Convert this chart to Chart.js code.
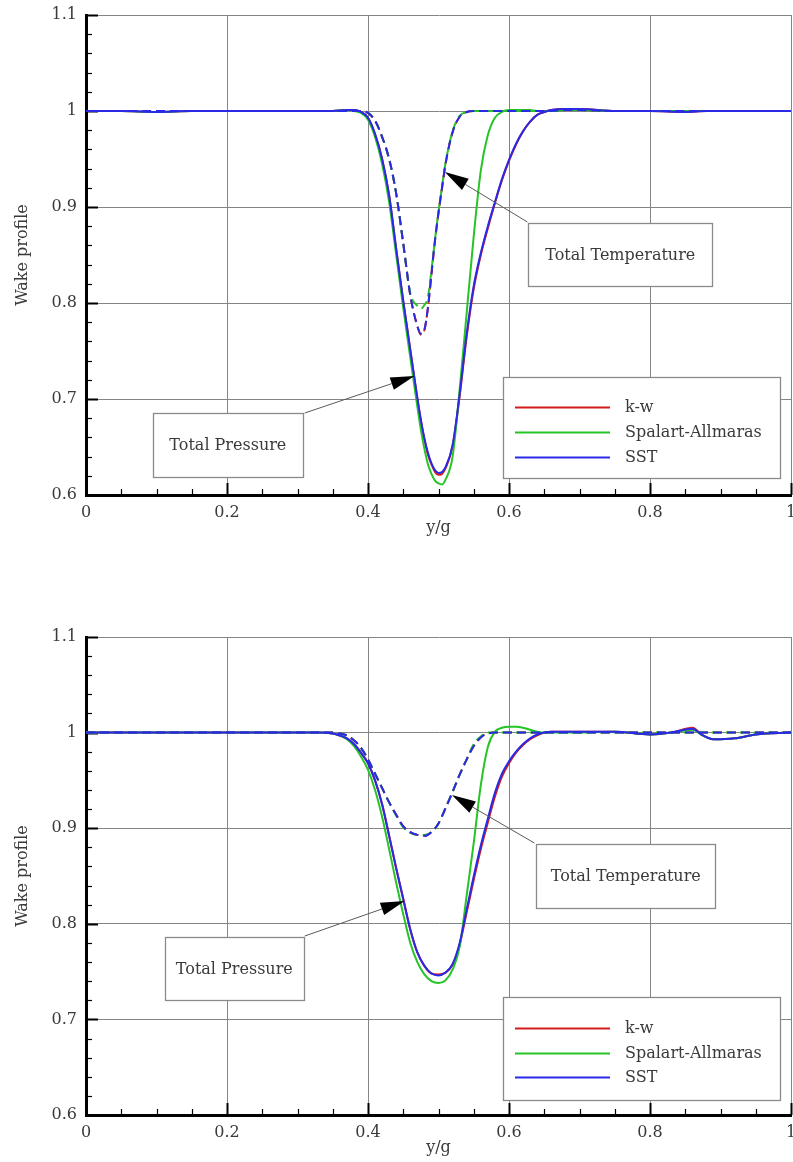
<!DOCTYPE html>
<html>
<head>
<meta charset="utf-8">
<script src="https://cdn.jsdelivr.net/npm/chart.js@4.4.1/dist/chart.umd.min.js"></script>
<style>
  html, body { margin: 0; padding: 0; background: #ffffff; }
  #wrap { position: relative; width: 793px; height: 1162px; }
  canvas { position: absolute; left: 0; }
</style>
</head>
<body>
<div id="wrap">
  <canvas id="c1" width="793" height="542" style="top:0px"></canvas>
  <canvas id="c2" width="793" height="602" style="top:560px"></canvas>
</div>
<script>
// ---------------- DATA ----------------
const models = ['k-w', 'Spalart-Allmaras', 'SST'];
const xTicksLabels = ['0', '0.2', '0.4', '0.6', '0.8', '1'];
const yTicksLabels = ['0.6', '0.7', '0.8', '0.9', '1', '1.1'];

// Upper chart : y/g positions
const ygTop = [0, 0.05, 0.1, 0.15, 0.2, 0.25, 0.3, 0.35,
  0.37, 0.38, 0.39, 0.40, 0.41, 0.42, 0.43, 0.44, 0.45, 0.46, 0.47,
  0.475, 0.48, 0.485, 0.49, 0.495, 0.50, 0.505, 0.51,
  0.52, 0.53, 0.54, 0.55, 0.56, 0.57, 0.58, 0.59, 0.60, 0.61, 0.62, 0.63, 0.64, 0.65, 0.66,
  0.68, 0.70, 0.75, 0.80, 0.85, 0.88, 0.90, 0.95, 1.0];

const topKwPressure = [1.000, 1.000, 0.999, 1.000, 1.000, 1.000, 1.000, 1.000,
  1.001, 1.001, 0.999, 0.993, 0.976, 0.950, 0.912, 0.856, 0.802, 0.751, 0.701,
  0.678, 0.658, 0.642, 0.632, 0.624, 0.621, 0.622, 0.628,
  0.651, 0.703, 0.765, 0.815, 0.850, 0.878, 0.904, 0.928, 0.948, 0.965, 0.979, 0.989, 0.996, 0.999, 1.001,
  1.002, 1.002, 1.000, 1.000, 0.999, 1.000, 1.000, 1.000, 1.000];
const topSaPressure = [1.000, 1.000, 0.999, 1.000, 1.000, 1.000, 1.000, 1.000,
  1.001, 1.000, 0.998, 0.991, 0.973, 0.945, 0.905, 0.850, 0.795, 0.743, 0.692,
  0.668, 0.648, 0.632, 0.622, 0.615, 0.612, 0.611, 0.616,
  0.640, 0.710, 0.790, 0.870, 0.938, 0.975, 0.993, 0.999, 1.001, 1.001, 1.001, 1.001, 1.000, 1.000, 1.000,
  1.001, 1.001, 1.000, 1.000, 1.000, 1.000, 1.000, 1.000, 1.000];
const topSstPressure = [1.000, 1.000, 0.999, 1.000, 1.000, 1.000, 1.000, 1.000,
  1.001, 1.001, 0.999, 0.993, 0.976, 0.950, 0.912, 0.856, 0.802, 0.751, 0.701,
  0.678, 0.659, 0.644, 0.633, 0.626, 0.623, 0.624, 0.629,
  0.652, 0.705, 0.768, 0.818, 0.852, 0.880, 0.905, 0.929, 0.949, 0.966, 0.979, 0.989, 0.996, 0.999, 1.001,
  1.002, 1.002, 1.000, 1.000, 0.999, 1.000, 1.000, 1.000, 1.000];
const topKwTemperature = [1.000, 1.000, 1.000, 1.000, 1.000, 1.000, 1.000, 1.000,
  1.000, 1.000, 1.000, 0.998, 0.990, 0.973, 0.950, 0.914, 0.862, 0.808, 0.776,
  0.767, 0.772, 0.795, 0.830, 0.865, 0.894, 0.920, 0.945,
  0.978, 0.994, 0.999, 1.000, 1.000, 1.000, 1.000, 1.000, 1.000, 1.000, 1.000, 1.000, 1.000, 1.000, 1.000,
  1.001, 1.001, 1.000, 1.000, 1.000, 1.000, 1.000, 1.000, 1.000];
const topSaTemperature = [1.000, 1.000, 1.000, 1.000, 1.000, 1.000, 1.000, 1.000,
  1.000, 1.000, 1.000, 0.998, 0.990, 0.973, 0.950, 0.914, 0.862, 0.810, 0.797,
  0.794, 0.798, 0.806, 0.834, 0.866, 0.895, 0.921, 0.946,
  0.979, 0.995, 0.999, 1.000, 1.000, 1.000, 1.000, 1.000, 1.000, 1.000, 1.000, 1.000, 1.000, 1.000, 1.000,
  1.001, 1.001, 1.000, 1.000, 1.000, 1.000, 1.000, 1.000, 1.000];
const topSstTemperature = [1.000, 1.000, 1.000, 1.000, 1.000, 1.000, 1.000, 1.000,
  1.000, 1.000, 1.000, 0.998, 0.990, 0.973, 0.950, 0.914, 0.862, 0.808, 0.776,
  0.768, 0.772, 0.795, 0.830, 0.865, 0.894, 0.920, 0.945,
  0.978, 0.994, 0.999, 1.000, 1.000, 1.000, 1.000, 1.000, 1.000, 1.000, 1.000, 1.000, 1.000, 1.000, 1.000,
  1.001, 1.001, 1.000, 1.000, 1.000, 1.000, 1.000, 1.000, 1.000];

// Lower chart : y/g positions
const ygBottom = [0, 0.05, 0.1, 0.15, 0.2, 0.25, 0.3, 0.33, 0.35,
  0.36, 0.37, 0.38, 0.39, 0.40, 0.41, 0.42, 0.43, 0.44, 0.45, 0.46, 0.47, 0.48, 0.49, 0.50,
  0.51, 0.52, 0.53, 0.54, 0.55, 0.56, 0.57, 0.58, 0.59, 0.60, 0.61, 0.62, 0.63, 0.64, 0.65, 0.66,
  0.68, 0.70, 0.75, 0.80, 0.83, 0.86, 0.875, 0.89, 0.92, 0.95, 1.0];

const bottomKwPressure = [1.000, 1.000, 1.000, 1.000, 1.000, 1.000, 1.000, 1.000, 0.999,
  0.997, 0.994, 0.988, 0.979, 0.968, 0.950, 0.925, 0.892, 0.858, 0.826, 0.794, 0.770, 0.756, 0.748, 0.747,
  0.749, 0.757, 0.778, 0.812, 0.846, 0.878, 0.906, 0.933, 0.954, 0.968, 0.979, 0.987, 0.993, 0.997, 1.000, 1.001,
  1.001, 1.001, 1.001, 0.998, 1.000, 1.005, 0.997, 0.993, 0.994, 0.998, 1.000];
const bottomSaPressure = [1.000, 1.000, 1.000, 1.000, 1.000, 1.000, 1.000, 1.000, 0.999,
  0.997, 0.993, 0.986, 0.975, 0.961, 0.940, 0.912, 0.878, 0.843, 0.810, 0.780, 0.760, 0.747, 0.740, 0.738,
  0.741, 0.752, 0.776, 0.830, 0.885, 0.945, 0.985, 1.001, 1.005, 1.006, 1.006, 1.005, 1.003, 1.001, 1.000, 1.000,
  1.000, 1.000, 1.001, 0.998, 1.000, 1.003, 0.997, 0.993, 0.994, 0.998, 1.000];
const bottomSstPressure = [1.000, 1.000, 1.000, 1.000, 1.000, 1.000, 1.000, 1.000, 0.999,
  0.997, 0.994, 0.988, 0.979, 0.968, 0.950, 0.925, 0.892, 0.858, 0.826, 0.794, 0.770, 0.756, 0.748, 0.746,
  0.749, 0.758, 0.780, 0.815, 0.850, 0.882, 0.910, 0.937, 0.957, 0.970, 0.980, 0.988, 0.994, 0.998, 1.000, 1.001,
  1.001, 1.001, 1.001, 0.998, 1.000, 1.004, 0.997, 0.993, 0.994, 0.998, 1.000];
const bottomKwTemperature = [1.000, 1.000, 1.000, 1.000, 1.000, 1.000, 1.000, 1.000, 1.000,
  0.999, 0.997, 0.992, 0.984, 0.972, 0.957, 0.942, 0.927, 0.914, 0.902, 0.896, 0.893, 0.892, 0.896, 0.905,
  0.921, 0.938, 0.956, 0.972, 0.986, 0.995, 0.999, 1.000, 1.000, 1.000, 1.000, 1.000, 1.000, 1.000, 1.000, 1.000,
  1.000, 1.000, 1.000, 1.000, 1.000, 1.000, 1.000, 1.000, 1.000, 1.000, 1.000];
const bottomSaTemperature = [1.000, 1.000, 1.000, 1.000, 1.000, 1.000, 1.000, 1.000, 1.000,
  0.999, 0.997, 0.992, 0.984, 0.972, 0.957, 0.942, 0.927, 0.913, 0.901, 0.895, 0.893, 0.893, 0.896, 0.905,
  0.921, 0.938, 0.956, 0.972, 0.988, 0.996, 1.000, 1.000, 1.000, 1.000, 1.000, 1.000, 1.000, 1.000, 1.000, 1.000,
  1.000, 1.000, 1.000, 1.000, 1.000, 1.000, 1.000, 1.000, 1.000, 1.000, 1.000];
const bottomSstTemperature = [1.000, 1.000, 1.000, 1.000, 1.000, 1.000, 1.000, 1.000, 1.000,
  0.999, 0.997, 0.992, 0.984, 0.972, 0.957, 0.942, 0.927, 0.914, 0.902, 0.896, 0.893, 0.892, 0.896, 0.905,
  0.921, 0.938, 0.956, 0.972, 0.986, 0.995, 0.999, 1.000, 1.000, 1.000, 1.000, 1.000, 1.000, 1.000, 1.000, 1.000,
  1.000, 1.000, 1.000, 1.000, 1.000, 1.000, 1.000, 1.000, 1.000, 1.000, 1.000];

// ---------------- STYLE ----------------
const COLORS = { 'k-w': '#d41c1c', 'Spalart-Allmaras': '#26c426', 'SST': '#2a2ae6' };
const FONT = '"DejaVu Serif", "Liberation Serif", serif';
const TEXT = '#3a3a3a';

function fmtX(v) {
  if (Math.abs(v) < 1e-9) return xTicksLabels[0];
  const i = Math.round(v / 0.2);
  if (Math.abs(v - i * 0.2) < 1e-6) return xTicksLabels[i];
  return '';
}
function fmtY(v) {
  const i = Math.round((v - 0.6) / 0.1);
  if (Math.abs(v - (0.6 + i * 0.1)) < 1e-6) return yTicksLabels[i];
  return '';
}

function drawArrow(ctx, x0, y0, x1, y1) {
  const ang = Math.atan2(y1 - y0, x1 - x0);
  const L = 24, W = 6.5;
  const bx = x1 - L * Math.cos(ang), by = y1 - L * Math.sin(ang);
  ctx.strokeStyle = '#5a5a5a';
  ctx.lineWidth = 1;
  ctx.beginPath(); ctx.moveTo(x0, y0); ctx.lineTo(bx, by); ctx.stroke();
  ctx.fillStyle = '#000';
  ctx.beginPath();
  ctx.moveTo(x1, y1);
  ctx.lineTo(bx + W * Math.sin(ang), by - W * Math.cos(ang));
  ctx.lineTo(bx - W * Math.sin(ang), by + W * Math.cos(ang));
  ctx.closePath(); ctx.fill();
}

const decorPlugin = {
  id: 'wakeDecor',
  beforeDatasetsDraw(chart, args, opts) {
    const { ctx, chartArea: a, scales: { x, y } } = chart;
    ctx.save();
    ctx.strokeStyle = '#000';
    // x ticks (inward)
    for (let k = 0; k <= Math.round(1 / opts.xMinor); k++) {
      const v = k * opts.xMinor;
      const major = k % Math.round(0.2 / opts.xMinor) === 0;
      const px = Math.round(x.getPixelForValue(v)) + 0.5;
      ctx.lineWidth = major ? 2 : 1.2;
      ctx.beginPath(); ctx.moveTo(px, a.bottom); ctx.lineTo(px, a.bottom - (major ? 12 : 6)); ctx.stroke();
    }
    // y ticks (inward)
    for (let k = 0; k <= Math.round(0.5 / opts.yMinor); k++) {
      const v = 0.6 + k * opts.yMinor;
      const major = k % Math.round(0.1 / opts.yMinor) === 0;
      const py = Math.round(y.getPixelForValue(v)) + 0.5;
      ctx.lineWidth = major ? 2 : 1.2;
      ctx.beginPath(); ctx.moveTo(a.left, py); ctx.lineTo(a.left + (major ? 12 : 6), py); ctx.stroke();
    }
    ctx.restore();
  },
  afterDatasetsDraw(chart, args, opts) {
    const { ctx, chartArea: a, scales: { x, y } } = chart;
    ctx.save();
    // annotation arrows and boxes
    (opts.notes || []).forEach(n => {
      drawArrow(ctx, x.getPixelForValue(n.from[0]), y.getPixelForValue(n.from[1]),
                     x.getPixelForValue(n.tip[0]), y.getPixelForValue(n.tip[1]));
      const bx0 = x.getPixelForValue(n.box[0]), by0 = y.getPixelForValue(n.box[1]);
      const bx1 = x.getPixelForValue(n.box[2]), by1 = y.getPixelForValue(n.box[3]);
      ctx.fillStyle = '#fff';
      ctx.fillRect(bx0, by0, bx1 - bx0, by1 - by0);
      ctx.strokeStyle = '#8a8a8a'; ctx.lineWidth = 1.3;
      ctx.strokeRect(Math.round(bx0) + 0.5, Math.round(by0) + 0.5, Math.round(bx1 - bx0), Math.round(by1 - by0));
      ctx.fillStyle = TEXT;
      ctx.font = '16px ' + FONT;
      ctx.textAlign = 'center'; ctx.textBaseline = 'middle';
      ctx.fillText(n.text, (bx0 + bx1) / 2, (by0 + by1) / 2 + 1);
    });
    // legend
    const L = opts.legend;
    const lx0 = a.right - L.fromRight - L.width, ly0 = a.bottom - L.fromBottom - L.height;
    ctx.fillStyle = '#fff';
    ctx.fillRect(lx0, ly0, L.width, L.height);
    ctx.strokeStyle = '#8a8a8a'; ctx.lineWidth = 1.3;
    ctx.strokeRect(Math.round(lx0) + 0.5, Math.round(ly0) + 0.5, L.width, L.height);
    models.forEach((m, i) => {
      const ry = Math.round(ly0 + L.firstRow + i * L.rowGap) + 0.5;
      ctx.strokeStyle = COLORS[m]; ctx.lineWidth = 2;
      ctx.beginPath(); ctx.moveTo(lx0 + 12, ry); ctx.lineTo(lx0 + 107, ry); ctx.stroke();
      ctx.fillStyle = TEXT; ctx.font = '16px ' + FONT;
      ctx.textAlign = 'left'; ctx.textBaseline = 'middle';
      ctx.fillText(m, lx0 + 122, ry);
    });
    ctx.restore();
  }
};

function buildDatasets(xs, groups) {
  // groups: [{model, values, dashed, order}]
  return groups.map(g => ({
    label: g.model + (g.dashed ? ' (Total Temperature)' : ' (Total Pressure)'),
    data: xs.map((xv, i) => ({ x: xv, y: g.values[i] })),
    borderColor: COLORS[g.model],
    borderWidth: 2,
    borderDash: g.dashed ? [9, 5] : [],
    pointRadius: 0,
    fill: false,
    cubicInterpolationMode: 'monotone',
    order: g.order
  }));
}

function makeChart(id, xs, groups, padTop, notes, legendPos) {
  const tickFont = { family: FONT, size: 16 };
  return new Chart(document.getElementById(id), {
    type: 'line',
    data: { datasets: buildDatasets(xs, groups) },
    options: {
      responsive: false, animation: false, devicePixelRatio: 1,
      layout: { padding: { top: padTop, right: 2, left: 0, bottom: 0 } },
      plugins: {
        legend: { display: false }, tooltip: { enabled: false },
        wakeDecor: { xMinor: 0.05, yMinor: 0.02, notes: notes, legend: legendPos }
      },
      scales: {
        x: {
          type: 'linear', min: 0, max: 1,
          ticks: { stepSize: 0.2, padding: 8, font: tickFont, color: TEXT, maxRotation: 0, autoSkip: false, callback: fmtX },
          grid: { color: '#858585', lineWidth: 1, drawTicks: false },
          border: { display: true, color: '#000', width: 3 },
          title: { display: true, text: 'y/g', font: tickFont, color: TEXT, padding: { top: 0, bottom: 5 } },
          afterFit(s) { s.height = 47; s.paddingLeft = 0; s.paddingRight = 0; }
        },
        y: {
          type: 'linear', min: 0.6, max: 1.1,
          ticks: { stepSize: 0.1, padding: 9, font: tickFont, color: TEXT, autoSkip: false, callback: fmtY },
          grid: { color: '#858585', lineWidth: 1, drawTicks: false },
          border: { display: true, color: '#000', width: 3 },
          title: { display: true, text: 'Wake profile', font: tickFont, color: TEXT, padding: { top: 13, bottom: 0 } },
          afterFit(s) { s.width = 86; s.paddingTop = 0; s.paddingBottom = 0; }
        }
      }
    },
    plugins: [decorPlugin]
  });
}

const legendPos = { fromRight: 11, fromBottom: 17, width: 277, height: 101, firstRow: 30, rowGap: 25 };

makeChart('c1', ygTop, [
  { model: 'SST', values: topSstTemperature, dashed: true, order: 0 },
  { model: 'SST', values: topSstPressure, dashed: false, order: 1 },
  { model: 'Spalart-Allmaras', values: topSaTemperature, dashed: true, order: 2 },
  { model: 'Spalart-Allmaras', values: topSaPressure, dashed: false, order: 3 },
  { model: 'k-w', values: topKwTemperature, dashed: true, order: 4 },
  { model: 'k-w', values: topKwPressure, dashed: false, order: 5 }
], 15, [
  { text: 'Total Pressure', box: [0.095, 0.6854, 0.3074, 0.6188], from: [0.3102, 0.6854], tip: [0.466, 0.724] },
  { text: 'Total Temperature', box: [0.6275, 0.8833, 0.8881, 0.8177], from: [0.626, 0.8844], tip: [0.509, 0.9365] }
], legendPos);

makeChart('c2', ygBottom, [
  { model: 'SST', values: bottomSstTemperature, dashed: true, order: 0 },
  { model: 'SST', values: bottomSstPressure, dashed: false, order: 1 },
  { model: 'Spalart-Allmaras', values: bottomSaTemperature, dashed: true, order: 2 },
  { model: 'Spalart-Allmaras', values: bottomSaPressure, dashed: false, order: 3 },
  { model: 'k-w', values: bottomKwTemperature, dashed: true, order: 4 },
  { model: 'k-w', values: bottomKwPressure, dashed: false, order: 5 }
], 77, [
  { text: 'Total Pressure', box: [0.1119, 0.7862, 0.3088, 0.7203], from: [0.3102, 0.7872], tip: [0.452, 0.8238] },
  { text: 'Total Temperature', box: [0.6388, 0.8835, 0.8924, 0.8165], from: [0.636, 0.8845], tip: [0.519, 0.9347] }
], { fromRight: 11, fromBottom: 15, width: 277, height: 103, firstRow: 31, rowGap: 24.5 });
</script>
</body>
</html>
